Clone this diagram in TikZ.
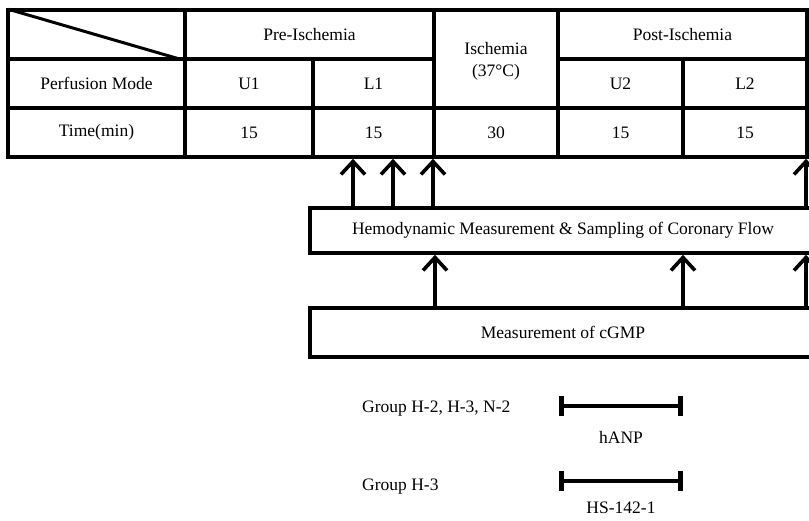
\documentclass[tikz,border=0pt]{standalone}
\usepackage{fontspec}
\setmainfont{Liberation Serif}
\usetikzlibrary{arrows.meta}
\newcommand\tcell[6]{\node[cellbox, minimum width={(#4-#2)*1pt}, minimum height={(#5-#3)*1pt}] (#1) at ({(#2+#4)/2},{(#3+#5)/2}) {#6};}
\begin{document}
\begin{tikzpicture}[x=1pt,y=-1pt,
  font=\fontsize{17.5}{21}\selectfont,
  cellbox/.style={draw, line width=3.6pt, rectangle, inner sep=0pt, align=center},
  arr/.style={line width=3.6pt, -{Straight Barb[length=13pt,width=24pt]}},
  bar/.style={line width=3.4pt, {Bar[width=20pt,line width=5pt]}-{Bar[width=20pt,line width=5pt]}}]
\useasboundingbox (0,0) rectangle (809,520);
\clip (0,0) rectangle (809,520);
\fill[white] (0,0) rectangle (809,520);
% table
\tcell{corner}{8}{10}{185}{59}{}
\tcell{pre}{185}{10}{434}{59}{Pre-Ischemia}
\tcell{isch}{434}{10}{558}{108}{}
\node[align=center, inner sep=0pt] (ischt) at (496,61) {Ischemia\\[1pt](37\textdegree C)};
\tcell{post}{558}{10}{807}{59}{Post-Ischemia}
\tcell{pm}{8}{59}{185}{108}{Perfusion Mode}
\tcell{u1}{185}{59}{313}{108}{U1}
\tcell{l1}{313}{59}{434}{108}{L1}
\tcell{u2}{558}{59}{683}{108}{U2}
\tcell{l2}{683}{59}{807}{108}{L2}
\tcell{time}{8}{108}{185}{157}{Time(min)}
\tcell{tu1}{185}{108}{313}{157}{15}
\tcell{tl1}{313}{108}{434}{157}{15}
\tcell{tis}{434}{108}{558}{157}{30}
\tcell{tu2}{558}{108}{683}{157}{15}
\tcell{tl2}{683}{108}{807}{157}{15}
\draw[line width=3pt] ([xshift=2pt,yshift=-1pt]corner.north west) -- ([xshift=-8pt,yshift=2pt]corner.south east);
% boxes
\tcell{hemo}{310}{208}{816}{253}{Hemodynamic Measurement \& Sampling of Coronary Flow}
\tcell{cgmp}{310}{308}{816}{357}{Measurement of cGMP}
% arrows
\coordinate (xa) at (353,0);
\coordinate (xb) at (393,0);
\coordinate (xc) at (433,0);
\coordinate (xd) at (806,0);
\coordinate (xe) at (435,0);
\coordinate (xf) at (683,0);
\draw[arr] (xa |- hemo.north) -- (xa |- tl1.south);
\draw[arr] (xb |- hemo.north) -- (xb |- tl1.south);
\draw[arr] (xc |- hemo.north) -- (xc |- tl1.south);
\draw[arr] (xd |- hemo.north) -- (xd |- tl2.south);
\draw[arr] (xe |- cgmp.north) -- (xe |- hemo.south);
\draw[arr] (xf |- cgmp.north) -- (xf |- hemo.south);
\draw[arr] (xd |- cgmp.north) -- (xd |- hemo.south);
% groups
\node[anchor=west, inner sep=0pt] (g1) at (362,409) {Group H-2, H-3, N-2};
\coordinate (b1l) at (559,406);
\coordinate (b1r) at (683,406);
\draw[bar] (b1l) -- (b1r);
\node (hanp) at (621,437) {hANP};
\node[anchor=west, inner sep=0pt] (g2) at (362,487) {Group H-3};
\coordinate (b2l) at (559,481);
\coordinate (b2r) at (683,481);
\draw[bar] (b2l) -- (b2r);
\node (hs) at (621,508) {HS-142-1};
\end{tikzpicture}
\end{document}
